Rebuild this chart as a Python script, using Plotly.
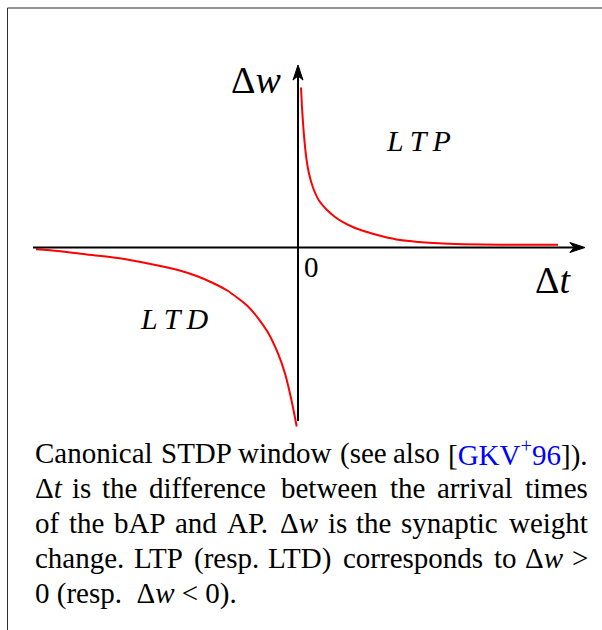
import plotly.graph_objects as go

# STDP window: potentiation branch (dt > 0) and depression branch (dt < 0)
ltp_dt = [0.058, 0.077, 0.106, 0.154, 0.212, 0.288, 0.404, 0.558, 0.712, 0.865,
          1.077, 1.327, 1.635, 1.962, 2.308, 2.596, 3.173, 3.885, 5.000]
ltp_dw = [3.077, 2.692, 2.269, 1.769, 1.423, 1.154, 0.904, 0.721, 0.587, 0.490,
          0.385, 0.298, 0.212, 0.144, 0.108, 0.087, 0.063, 0.052, 0.052]
ltd_dt = [-5.038, -4.615, -4.058, -3.462, -2.788, -2.308, -1.923, -1.635, -1.346,
          -0.981, -0.769, -0.577, -0.385, -0.250, -0.154, -0.077, -0.025]
ltd_dw = [-0.035, -0.069, -0.135, -0.202, -0.327, -0.433, -0.558, -0.683, -0.837,
          -1.115, -1.356, -1.635, -2.038, -2.423, -2.808, -3.173, -3.442]

BLUE = "<span style='color:#0000ff'>"
caption_words = [
    ["Canonical", "STDP", "window", "(see", "also",
     "[" + BLUE + "GKV<sup>+</sup>96</span>])."],
    ["Δ<i>t</i>", "is", "the", "difference", "between", "the", "arrival", "times"],
    ["of", "the", "bAP", "and", "AP.", "Δ<i>w</i>", "is", "the", "synaptic", "weight"],
    ["change.", "LTP", "(resp.", "LTD)", "corresponds", "to", "Δ<i>w</i>", "&gt;"],
]
caption_last = "0 (resp.  Δ<i>w</i> &lt; 0)."

W, H = 602, 630
S = 52.0             # pixels per unit
OX, OY = 298, 247.5  # origin in pixels

SERIF = "Liberation Serif"
CAP_SIZE = 29
TEXT_L, TEXT_R = 35, 588

# advance widths (1/1000 em) of Liberation Serif, used to justify the caption
ADV = dict(zip("abcdefghijklmnopqrstuvwxyz",
               [444, 500, 444, 500, 444, 333, 500, 500, 278, 278, 500, 278, 778,
                500, 500, 500, 500, 333, 389, 278, 500, 500, 722, 500, 500, 444]))
ADV.update(dict(zip("ABCDEFGHIJKLMNOPQRSTUVWXYZ",
                    [722, 667, 667, 722, 611, 556, 722, 722, 333, 389, 722, 611, 889,
                     722, 722, 556, 722, 667, 556, 611, 722, 722, 944, 722, 722, 611])))
ADV.update({c: 500 for c in "0123456789"})
ADV.update({".": 250, ",": 250, "(": 333, ")": 333, "[": 333, "]": 333,
            ">": 564, "<": 564, "+": 564, "Δ": 612})


def glyph(c, size):
    # hinted glyph advances land on whole pixels
    return int(ADV.get(c, 500) * size / 1000.0 + 0.5)


def text_width(html, size):
    s = html.replace("&gt;", ">").replace("&lt;", "\x01")
    total, i, cur = 0, 0, size
    while i < len(s):
        if s[i] == "<":
            j = s.index(">", i)
            tag = s[i + 1:j]
            if tag == "sup":
                cur = size * 0.7
            elif tag == "/sup":
                cur = size
            i = j + 1
            continue
        total += glyph("<" if s[i] == "\x01" else s[i], cur)
        i += 1
    return total


fig = go.Figure()
for xs, ys in ((ltp_dt, ltp_dw), (ltd_dt, ltd_dw)):
    fig.add_trace(go.Scatter(x=xs, y=ys, mode="lines",
                             line=dict(color="#ff0000", width=2, shape="spline", smoothing=0.6),
                             hoverinfo="skip", showlegend=False))

# axes with stealth arrow heads
x_tip, y_tip = (585 - OX) / S, (OY - 65) / S
x_left, y_bot = (33 - OX) / S, (OY - 421) / S
L, HW, N = 0.29, 0.096, 0.21
shapes = [
    dict(type="line", x0=x_left, y0=0, x1=x_tip - N, y1=0, line=dict(color="black", width=2)),
    dict(type="line", x0=0, y0=y_bot, x1=0, y1=y_tip - N, line=dict(color="black", width=2)),
    dict(type="path", path=f"M {x_tip} 0 L {x_tip-L} {HW} L {x_tip-N} 0 L {x_tip-L} {-HW} Z",
         fillcolor="black", line=dict(color="black", width=1)),
    dict(type="path", path=f"M 0 {y_tip} L {HW} {y_tip-L} L 0 {y_tip-N} L {-HW} {y_tip-L} Z",
         fillcolor="black", line=dict(color="black", width=1)),
    # page frame
    dict(type="line", xref="paper", yref="paper", x0=7.5/W, y0=1-8/H, x1=1, y1=1-8/H,
         line=dict(color="#707070", width=1.5)),
    dict(type="line", xref="paper", yref="paper", x0=7.5/W, y0=1-8/H, x1=7.5/W, y1=0,
         line=dict(color="#303030", width=1)),
]

ann = []


def label(text, px, py, size):
    ann.append(dict(x=(px - OX) / S, y=(OY - py) / S, xref="x", yref="y", text=text,
                    showarrow=False, xanchor="center", yanchor="middle",
                    font=dict(family=SERIF, size=size, color="black")))


THIN = "\u2009"
label("Δ<i>w</i>", 256, 80, 38)
label("Δ<i>t</i>", 553, 280, 38)
label("0", 311.5, 267, 29)
label("<i>L" + THIN + "T" + THIN + "P</i>", 418, 140, 30)
label("<i>L" + THIN + "T" + THIN + "D</i>", 174, 318, 30)


def cap_text(text, px, py, anchor):
    ann.append(dict(x=px / W, y=1 - py / H, xref="paper", yref="paper",
                    text=text, showarrow=False, xanchor=anchor, yanchor="middle",
                    borderpad=0, borderwidth=0,
                    font=dict(family=SERIF, size=CAP_SIZE, color="black")))


# justified caption lines: words spread evenly between the margins
for i, words in enumerate(caption_words):
    py = 453 + 35 * i
    widths = [text_width(w, CAP_SIZE) for w in words]
    gap = (TEXT_R - TEXT_L - sum(widths)) / (len(words) - 1)
    x = TEXT_L
    for k, (w, wd) in enumerate(zip(words, widths)):
        if k == len(words) - 1:
            cap_text(w, TEXT_R, py, "right")
        else:
            cap_text(w, x, py, "left")
        x += wd + gap
cap_text(caption_last, TEXT_L, 453 + 35 * 4, "left")

fig.update_layout(
    width=W, height=H, autosize=False,
    margin=dict(l=0, r=0, t=0, b=0),
    paper_bgcolor="white", plot_bgcolor="white",
    xaxis=dict(range=[-OX / S, (W - OX) / S], visible=False, fixedrange=True),
    yaxis=dict(range=[-(H - OY) / S, OY / S], visible=False, fixedrange=True),
    shapes=shapes, annotations=ann,
)
fig.write_html("out.html")
